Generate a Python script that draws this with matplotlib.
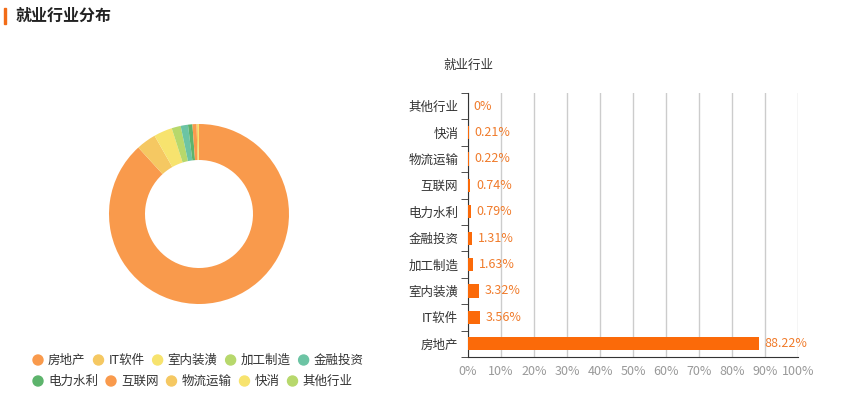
import numpy as np
import matplotlib.pyplot as plt
from matplotlib.patches import Rectangle, Circle

plt.rcParams['font.family'] = ['Noto Sans CJK SC', 'DejaVu Sans']

# 数据
industries = ['房地产', 'IT软件', '室内装潢', '加工制造', '金融投资',
              '电力水利', '互联网', '物流运输', '快消', '其他行业']
shares = [88.22, 3.56, 3.32, 1.63, 1.31, 0.79, 0.74, 0.22, 0.21, 0]
pie_colors = ['#f99a4c', '#f5c862', '#f7e36e', '#b7d86c', '#6cc4a4',
              '#5db46c', '#f99a4c', '#f5c862', '#f7e36e', '#b7d86c']
x_ticks = [0, 10, 20, 30, 40, 50, 60, 70, 80, 90, 100]

W, H = 864, 393
fig = plt.figure(figsize=(W / 100, H / 100), dpi=100)

# 标题
fig.patches.append(Rectangle((4 / W, 1 - 24 / H), 2 / W, 16 / H,
                             transform=fig.transFigure, color='#f26c17'))
fig.text(16 / W, 1 - 16 / H, '就业行业分布', fontsize=11.5, fontweight='bold',
         color='#222222', va='center', ha='left')

# 环形图
cx, cy, r = 199, 214, 90
ax_pie = fig.add_axes([(cx - r) / W, (H - cy - r) / H, 2 * r / W, 2 * r / H])
ax_pie.pie(shares, colors=pie_colors, startangle=90, counterclock=False,
           radius=1, wedgeprops=dict(width=0.4, linewidth=0))
ax_pie.set_xlim(-1, 1)
ax_pie.set_ylim(-1, 1)
ax_pie.set_aspect('equal')
ax_pie.axis('off')

# 图例（流式排列）
fig.canvas.draw()
renderer = fig.canvas.get_renderer()
rows = [(industries[:5], pie_colors[:5], 360), (industries[5:], pie_colors[5:], 381)]
for names, cols, ypx in rows:
    x = 33
    for name, c in zip(names, cols):
        fig.patches.append(Circle((x + 5, H - ypx), 5, transform=None,
                                  color=c))
        t = fig.text((x + 15) / W, 1 - ypx / H, name, fontsize=9,
                     color='#333333', va='center', ha='left')
        w = t.get_window_extent(renderer).width
        x = x + 15 + w + 8

# 条形图
ax = fig.add_axes([468 / W, 36 / H, 330 / W, 264 / H])
ypos = np.arange(len(industries))
ax.barh(ypos, shares, height=0.5, color='#fb6a09', zorder=3)
for yy, v in zip(ypos, shares):
    ax.annotate(f'{v:g}%', (v, yy), xytext=(4, 0), textcoords='offset points',
                va='center', ha='left', fontsize=9, color='#f07b2b')
ax.set_xlim(0, 100)
ax.set_ylim(-0.5, len(industries) - 0.5)
ax.set_xticks(x_ticks)
ax.set_xticklabels([f'{t}%' for t in x_ticks])
ax.set_yticks(ypos)
ax.set_yticklabels(industries)
ax.set_yticks(np.arange(-0.5, len(industries), 1), minor=True)
ax.tick_params(axis='y', which='major', length=0, labelsize=9,
               labelcolor='#333333', pad=7)
ax.tick_params(axis='y', which='minor', length=5, color='#333333')
ax.tick_params(axis='x', length=0, labelsize=9, labelcolor='#999999', pad=6)
ax.grid(axis='x', color='#cccccc', linewidth=1, zorder=0)
for s in ['top', 'right']:
    ax.spines[s].set_visible(False)
ax.spines['left'].set_color('#333333')
ax.spines['bottom'].set_color('#333333')
ax.text(0, 1.08, '就业行业', transform=ax.transAxes, ha='center', va='bottom',
        fontsize=9, color='#333333')

fig.savefig('out.png', dpi=100)
